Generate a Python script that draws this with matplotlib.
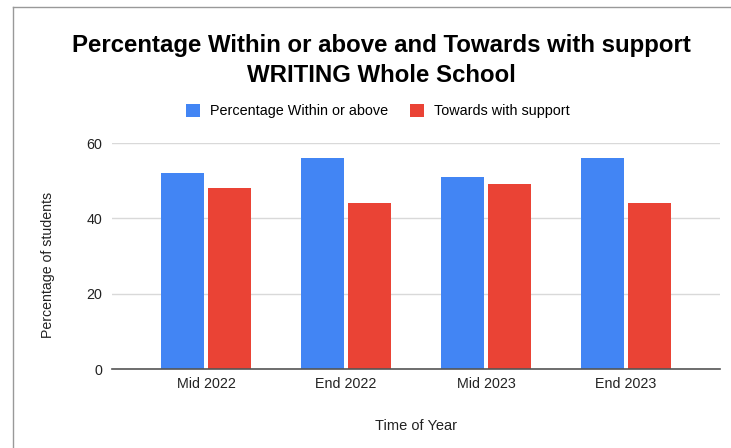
import numpy as np
import matplotlib.pyplot as plt

plt.rcParams['font.family'] = ['Liberation Sans', 'DejaVu Sans']

periods = ["Mid 2022", "End 2022", "Mid 2023", "End 2023"]
within_above = [52, 56, 51, 56]
towards_support = [48, 44, 49, 44]
yticks = [0, 20, 40, 60]

BLUE = "#4285f4"
RED = "#ea4335"
TXT = "#222222"

fig = plt.figure(figsize=(7.31, 4.48), dpi=100)
W, H = 731, 448
ax = fig.add_axes([112 / W, 1 - 369 / H, (720 - 112) / W, (369 - 143) / H])

x = np.arange(len(periods))
bw = 0.307
gap = 0.011
ax.bar(x - bw / 2 - gap, within_above, bw, color=BLUE, label="Percentage Within or above")
ax.bar(x + bw / 2 + gap, towards_support, bw, color=RED, label="Towards with support")

# categories sit 140px apart, gridlines run 24px past the outer slots
ax.set_xlim(-0.5 - 24 / 140, len(periods) - 0.5 + 24 / 140)
ax.set_ylim(0, 60)
ax.set_yticks(yticks)
ax.set_xticks(x)
ax.set_xticklabels(periods)
ax.grid(axis="y", color="#d9d9d9", linewidth=1)
ax.set_axisbelow(True)
for s in ["top", "right", "left"]:
    ax.spines[s].set_visible(False)
ax.spines["bottom"].set_color("#555555")
ax.spines["bottom"].set_linewidth(1.2)
ax.tick_params(length=0, labelsize=10.3, colors=TXT)
ax.tick_params(axis="x", pad=6)
ax.tick_params(axis="y", pad=7)

ax.set_xlabel("Time of Year", fontsize=10.5, color=TXT, labelpad=20)
fig.text(48 / W, 1 - 265 / H, "Percentage of students", rotation=90,
         ha="center", va="center", fontsize=10.2, color=TXT)

fig.text(381 / W, 1 - 52 / H, "Percentage Within or above and Towards with support",
         ha="center", va="baseline", fontsize=17.3, fontweight="bold")
fig.text(381 / W, 1 - 82 / H, "WRITING Whole School",
         ha="center", va="baseline", fontsize=17.3, fontweight="bold")

fig.legend(loc="center", bbox_to_anchor=(378 / W, 1 - 111 / H), ncol=2,
           frameon=False, fontsize=10.35, handlelength=1.0, handleheight=1.0,
           columnspacing=1.5, handletextpad=0.7, borderpad=0)

# chart border (top and left)
fig.add_artist(plt.Line2D([13 / W, 13 / W], [0, 1 - 7 / H], color="#999999", linewidth=1))
fig.add_artist(plt.Line2D([13 / W, 1], [1 - 7 / H, 1 - 7 / H], color="#999999", linewidth=1))

fig.savefig("out.png", dpi=100)
